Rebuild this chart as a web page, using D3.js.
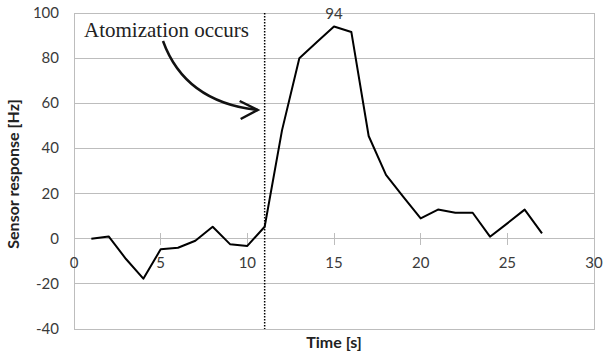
<!DOCTYPE html>
<html>
<head>
<meta charset="utf-8">
<script src="https://cdn.jsdelivr.net/npm/d3@7"></script>
<style>
  html, body { margin: 0; padding: 0; background: #fff; }
  svg { display: block; }
</style>
</head>
<body>
<svg id="chart" width="603" height="356"></svg>
<script>
// Sensor response over time
const times = [1, 2, 3, 4, 5, 6, 7, 8, 9, 10, 11, 12, 13, 14, 15, 16, 17, 18, 19, 20, 21, 22, 23, 24, 25, 26, 27];
const response = [0, 1, -9, -17.7, -4.7, -4, -0.9, 5.3, -2.4, -3.2, 5.3, 48, 80, 87, 94, 91.6, 45.5, 28.3, 18.5, 9, 12.9, 11.5, 11.5, 0.9, 6.8, 12.9, 2.4];
const xTicks = [0, 5, 10, 15, 20, 25, 30];
const yTicks = [-40, -20, 0, 20, 40, 60, 80, 100];
const atomizationTime = 11;
const peakIndex = 14;
const annotationText = "Atomization occurs";

const svg = d3.select("#chart");
const margin = { left: 74, top: 13, right: 9, bottom: 27 };
const W = 603, H = 356;

const x = d3.scaleLinear().domain([0, 30]).range([margin.left, W - margin.right]);
const y = d3.scaleLinear().domain([-40, 100]).range([H - margin.bottom, margin.top]);

const grid = "#bdbdbd";
const textCol = "#3a3a3a";
const font = "Lato, 'Open Sans', sans-serif";

// Horizontal gridlines
svg.append("g")
  .selectAll("line")
  .data(yTicks.filter(d => d !== 0))
  .join("line")
  .attr("x1", x(0)).attr("x2", x(30))
  .attr("y1", d => y(d)).attr("y2", d => y(d))
  .attr("stroke", grid).attr("stroke-width", 1)
  .attr("shape-rendering", "crispEdges");

// Plot frame
svg.append("rect")
  .attr("x", x(0)).attr("y", y(100))
  .attr("width", x(30) - x(0)).attr("height", y(-40) - y(100))
  .attr("fill", "none").attr("stroke", grid).attr("stroke-width", 1)
  .attr("shape-rendering", "crispEdges");

// Horizontal axis through zero, with crossing ticks
const xAxis = svg.append("g").attr("transform", `translate(0,${y(0)})`);
xAxis.append("line")
  .attr("x1", x(0)).attr("x2", x(30))
  .attr("stroke", grid).attr("shape-rendering", "crispEdges");
xAxis.selectAll("line.tick")
  .data(xTicks)
  .join("line")
  .attr("class", "tick")
  .attr("x1", d => x(d)).attr("x2", d => x(d))
  .attr("y1", -6).attr("y2", 6)
  .attr("stroke", grid).attr("shape-rendering", "crispEdges");
xAxis.selectAll("text")
  .data(xTicks)
  .join("text")
  .attr("x", d => x(d))
  .attr("y", 29)
  .attr("text-anchor", "middle")
  .attr("font-family", font).attr("font-size", 15)
  .attr("fill", textCol)
  .text(d => d);

// Vertical axis labels
svg.append("g")
  .selectAll("text")
  .data(yTicks)
  .join("text")
  .attr("x", 59)
  .attr("y", d => y(d) + 5)
  .attr("text-anchor", "end")
  .attr("font-family", font).attr("font-size", 15)
  .attr("fill", textCol)
  .text(d => d);

// Axis titles
svg.append("text")
  .attr("transform", `translate(19,${(y(100) + y(-40)) / 2 + 3}) rotate(-90)`)
  .attr("text-anchor", "middle")
  .attr("font-family", font).attr("font-size", 16).attr("font-weight", "bold")
  .attr("fill", "#222")
  .text("Sensor response [Hz]");

svg.append("text")
  .attr("x", (x(0) + x(30)) / 2)
  .attr("y", 348)
  .attr("text-anchor", "middle")
  .attr("font-family", font).attr("font-size", 16).attr("font-weight", "bold")
  .attr("fill", "#222")
  .text("Time [s]");

// Dotted marker at atomization time
svg.append("line")
  .attr("x1", x(atomizationTime)).attr("x2", x(atomizationTime))
  .attr("y1", y(100)).attr("y2", y(-40))
  .attr("stroke", "#000").attr("stroke-width", 1.5)
  .attr("stroke-dasharray", "1.5,1.5");

// Response line
const line = d3.line()
  .x((d, i) => x(times[i]))
  .y(d => y(d));
svg.append("path")
  .datum(response)
  .attr("d", line)
  .attr("fill", "none")
  .attr("stroke", "#000")
  .attr("stroke-width", 2)
  .attr("stroke-linejoin", "round");

// Peak value label
svg.append("text")
  .attr("x", x(times[peakIndex]))
  .attr("y", y(response[peakIndex]) - 8)
  .attr("text-anchor", "middle")
  .attr("font-family", font).attr("font-size", 15)
  .attr("fill", textCol)
  .text(response[peakIndex]);

// Annotation text and curved arrow
svg.append("text")
  .attr("x", 84).attr("y", 37)
  .attr("font-family", "'Liberation Serif', 'Times New Roman', serif")
  .attr("font-size", 21)
  .attr("fill", "#222")
  .text(annotationText);

const tipX = x(atomizationTime) - 7, tipY = 110;
svg.append("path")
  .attr("d", `M163,41 Q185,102 ${tipX},${tipY}`)
  .attr("fill", "none").attr("stroke", "#111").attr("stroke-width", 2.5);
svg.append("path")
  .attr("d", `M${tipX - 18},${tipY - 9} L${tipX},${tipY} L${tipX - 17},${tipY + 9}`)
  .attr("fill", "none").attr("stroke", "#111").attr("stroke-width", 2.5)
  .attr("stroke-linejoin", "miter");
</script>
</body>
</html>
